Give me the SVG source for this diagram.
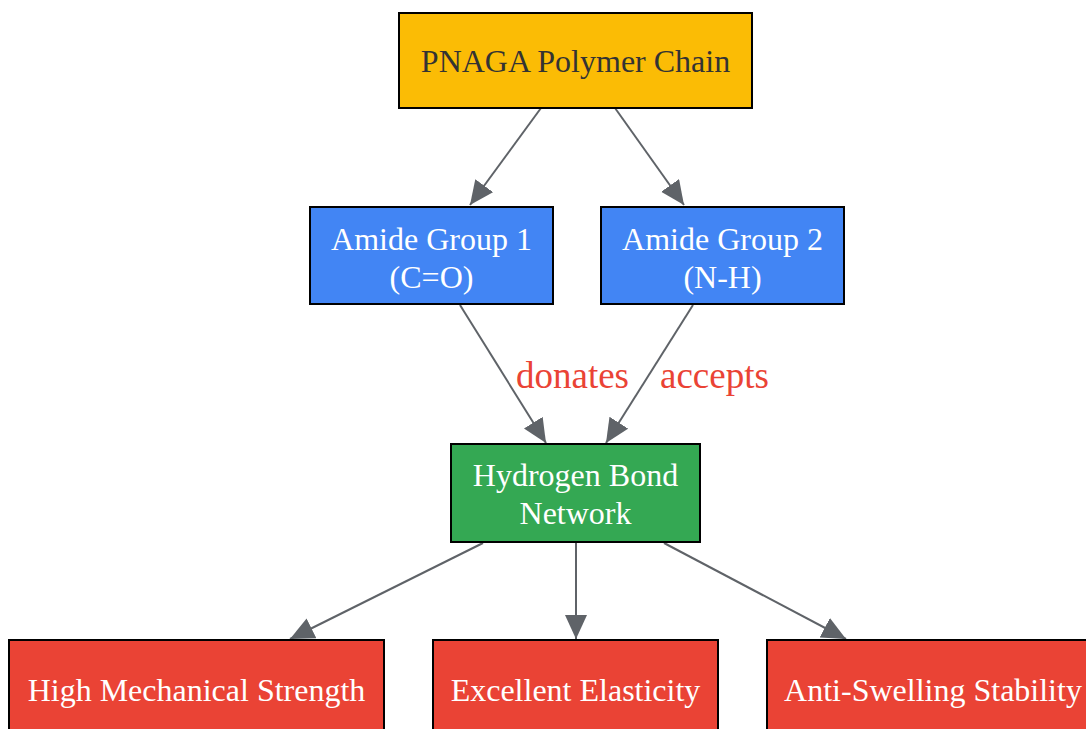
<svg xmlns="http://www.w3.org/2000/svg" width="1086" height="729" viewBox="0 0 1086 729">
<style>
.node rect{stroke:#000;stroke-width:2}
.t{font-family:"Liberation Serif",serif;font-size:32px;text-anchor:middle;fill:#fff}
.dark{fill:#333}
.edge{stroke:#5F6368;stroke-width:2;fill:none;marker-end:url(#ah)}
.lbl{font-family:"Liberation Serif",serif;font-size:37px;fill:#EA4335}
</style>
<defs>
<marker id="ah" markerUnits="userSpaceOnUse" markerWidth="26" markerHeight="24" refX="24" refY="11" orient="auto">
<path d="M0,0 L24,11 L0,22 Z" fill="#5F6368"/>
</marker>
</defs>
<rect width="1086" height="729" fill="#fff"/>
<g id="connectors">
<path class="edge" d="M541,108 L470,205"/>
<path class="edge" d="M615,108 L684,205"/>
<path class="edge" d="M460,305 L546,443"/>
<path class="edge" d="M693,305 L606,443"/>
<path class="edge" d="M483,543 L290,639"/>
<path class="edge" d="M576,543 L576,639"/>
<path class="edge" d="M664,543 L846,639"/>
<text class="lbl" x="516" y="388">donates</text>
<text class="lbl" x="660" y="388">accepts</text>
</g>
<g id="pnaga" class="node"><rect x="399" y="13" width="353" height="95" fill="#FBBC05"/><text class="t dark" x="575.5" y="72">PNAGA Polymer Chain</text></g>
<g id="amide1" class="node"><rect x="310" y="207" width="243" height="97" fill="#4285F4"/><text class="t" x="431.5" y="250">Amide Group 1</text><text class="t" x="431.5" y="288">(C=O)</text></g>
<g id="amide2" class="node"><rect x="601" y="207" width="243" height="97" fill="#4285F4"/><text class="t" x="722.5" y="250">Amide Group 2</text><text class="t" x="722.5" y="288">(N-H)</text></g>
<g id="hbond" class="node"><rect x="451" y="444" width="249" height="98" fill="#34A853"/><text class="t" x="575.5" y="486">Hydrogen Bond</text><text class="t" x="575.5" y="524">Network</text></g>
<g id="strength" class="node"><rect x="9" y="640" width="375" height="100" fill="#EA4335"/><text class="t" x="196.5" y="701">High Mechanical Strength</text></g>
<g id="elasticity" class="node"><rect x="433" y="640" width="285" height="100" fill="#EA4335"/><text class="t" x="575.5" y="701">Excellent Elasticity</text></g>
<g id="swelling" class="node"><rect x="767" y="640" width="330" height="100" fill="#EA4335"/><text class="t" x="933" y="701">Anti-Swelling Stability</text></g>
</svg>
